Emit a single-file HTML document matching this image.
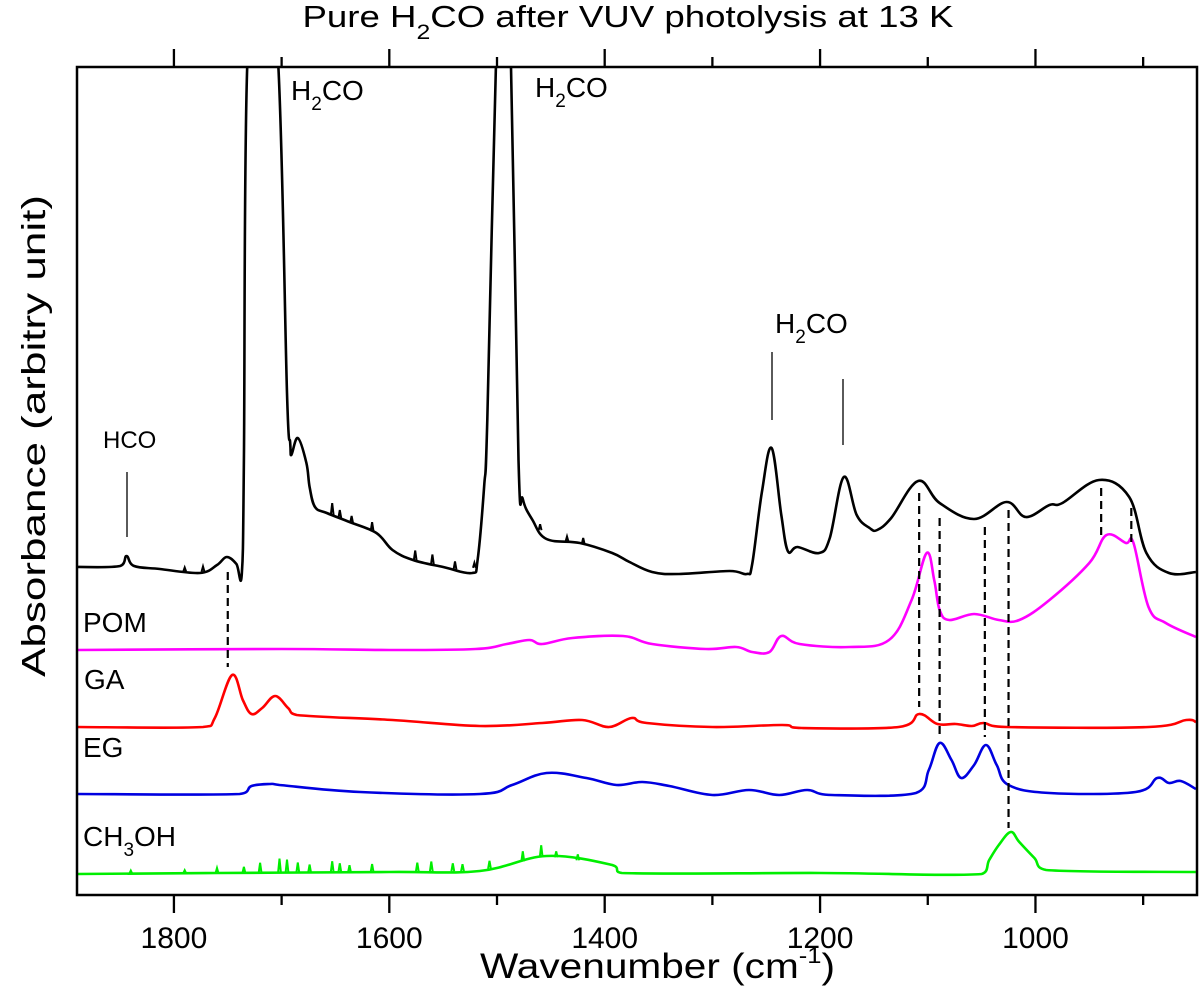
<!DOCTYPE html>
<html><head><meta charset="utf-8"><title>Pure H2CO after VUV photolysis</title>
<style>html,body{margin:0;padding:0;background:#fff;}svg{display:block;font-family:"Liberation Sans",Arial,sans-serif;}</style>
</head><body>
<svg id="chart" width="1200" height="1007" viewBox="0 0 1200 1007" xmlns="http://www.w3.org/2000/svg">
<defs><clipPath id="plotclip"><rect x="77" y="67" width="1120" height="828"/></clipPath></defs>
<rect width="1200" height="1007" fill="#fff"/>
<text x="628" y="27" text-anchor="middle" font-size="31" textLength="651" lengthAdjust="spacingAndGlyphs">Pure H<tspan font-size="21" dy="12">2</tspan><tspan dy="-12">CO after VUV photolysis at 13 K</tspan></text>
<g id="series" clip-path="url(#plotclip)"></g>
<g id="dashes"></g>
<rect x="77" y="67" width="1120" height="828" fill="none" stroke="#000" stroke-width="2.5"/>
<g id="ticks"></g>
<text x="480" y="978" font-size="35" textLength="355" lengthAdjust="spacingAndGlyphs">Wavenumber (cm<tspan font-size="22" dy="-15">-1</tspan><tspan dy="15">)</tspan></text>
<text transform="translate(45,677) rotate(-90)" x="0" y="0" font-size="33" textLength="482" lengthAdjust="spacingAndGlyphs">Absorbance (arbitry unit)</text>
<g font-size="28">
<text x="103" y="448" font-size="24">HCO</text>
<line x1="127" y1="472" x2="127" y2="537" stroke="#000" stroke-width="1.3"/>
<text x="291" y="100">H<tspan font-size="19" dy="10">2</tspan><tspan dy="-10">CO</tspan></text>
<text x="535" y="97">H<tspan font-size="19" dy="10">2</tspan><tspan dy="-10">CO</tspan></text>
<text x="775" y="333">H<tspan font-size="19" dy="10">2</tspan><tspan dy="-10">CO</tspan></text>
<line x1="772" y1="352" x2="772" y2="420" stroke="#000" stroke-width="1.3"/>
<line x1="843" y1="379" x2="843" y2="445" stroke="#000" stroke-width="1.3"/>
</g>
<g font-size="28">
<text x="83" y="632">POM</text>
<text x="84" y="689">GA</text>
<text x="83" y="757">EG</text>
<text x="83" y="846">CH<tspan font-size="19" dy="10">3</tspan><tspan dy="-10">OH</tspan></text>
</g>
</svg>
<script>
const xDomain = [1890, 850];
const yDomain = [0, 8.28];
const majorTicks = [1800, 1600, 1400, 1200, 1000];
const minorTicks = [1700, 1500, 1300, 1100, 900];
const tickLabels = ["1800", "1600", "1400", "1200", "1000"];

const blackWn = [1890,1850,1844,1837,1813,1776,1760,1751,1742,1737,1735,1732,1718,1703,1695,1692,1691,1685,1677,1674,1669,1658,1637,1612,1597,1578,1550,1523,1518,1512,1509,1501,1494,1487,1480,1476,1467,1454,1423,1393,1377,1356,1331,1284,1268,1263,1254,1245,1236,1230,1221,1201,1191,1178,1166,1154,1147,1134,1109,1089,1057,1027,1009,987,975,941,913,897,876,851];
const blackAbs = [3.28,3.29,3.39,3.29,3.26,3.22,3.30,3.38,3.31,3.21,4.35,8.28,10,8.28,5.02,4.52,4.40,4.57,4.32,4.08,3.88,3.82,3.73,3.62,3.45,3.35,3.28,3.22,3.35,4.08,4.75,8.28,10,8.28,4.35,3.96,3.75,3.56,3.52,3.42,3.33,3.23,3.21,3.24,3.21,3.31,4.03,4.47,3.80,3.44,3.48,3.42,3.57,4.18,3.80,3.67,3.65,3.77,4.14,3.92,3.76,3.93,3.78,3.90,3.92,4.15,3.98,3.42,3.22,3.23];
const blackSpikeWn = [1790,1773,1653,1646,1635,1616,1576,1560,1539,1521,1460,1435,1420];
const blackSpikeH = [0.04,0.05,0.12,0.08,0.07,0.09,0.10,0.10,0.08,0.05,0.06,0.05,0.06];

const pomWn = [1890,1700,1600,1520,1491,1470,1458,1430,1383,1356,1306,1278,1263,1247,1236,1219,1173,1136,1115,1101,1094,1089,1080,1057,1034,1015,987,950,934,916,909,895,879,851];
const pomAbs = [2.45,2.46,2.45,2.46,2.51,2.55,2.51,2.57,2.59,2.51,2.46,2.48,2.43,2.43,2.59,2.51,2.48,2.55,2.95,3.42,3.15,2.85,2.75,2.81,2.75,2.75,2.95,3.32,3.60,3.52,3.52,2.88,2.72,2.58];

const gaWn = [1890,1773,1762,1746,1736,1728,1718,1706,1694,1686,1597,1516,1458,1421,1396,1375,1361,1300,1235,1217,1127,1108,1091,1074,1059,1048,1027,895,860,851];
const gaAbs = [1.68,1.68,1.77,2.20,1.95,1.81,1.87,1.99,1.87,1.80,1.75,1.69,1.72,1.75,1.68,1.77,1.72,1.68,1.70,1.67,1.68,1.81,1.71,1.71,1.69,1.72,1.68,1.68,1.75,1.73];

const egWn = [1890,1739,1728,1711,1702,1627,1516,1486,1454,1417,1389,1365,1340,1300,1266,1238,1212,1189,1111,1099,1089,1078,1069,1057,1046,1036,1025,987,907,887,876,865,851];
const egAbs = [1.01,1.01,1.09,1.11,1.10,1.03,1.01,1.10,1.22,1.17,1.10,1.13,1.09,1.00,1.05,1.00,1.05,1.00,1.02,1.25,1.52,1.35,1.17,1.30,1.50,1.30,1.10,1.02,1.03,1.17,1.12,1.14,1.06];

const ch3ohWn = [1890,1760,1600,1516,1454,1393,1384,1200,1050,1043,1034,1023,1015,1001,990,851];
const ch3ohAbs = [0.21,0.22,0.23,0.24,0.39,0.30,0.22,0.22,0.21,0.35,0.50,0.63,0.53,0.37,0.25,0.23];
const ch3ohSpikeWn = [1840,1790,1760,1735,1720,1702,1695,1685,1674,1653,1646,1637,1616,1574,1561,1541,1532,1507,1476,1459,1445,1425];
const ch3ohSpikeH = [0.03,0.03,0.05,0.06,0.10,0.14,0.13,0.10,0.08,0.11,0.09,0.07,0.08,0.09,0.10,0.08,0.07,0.08,0.10,0.12,0.06,0.06];

const dashWn = [1750,1108,1089,1047,1025,939,911];
const dashTop = [3.23,4.02,3.77,3.68,3.85,4.07,3.87];
const dashBottom = [2.28,1.88,1.58,1.58,0.67,3.55,3.53];

function xs(v){ return 77 + (xDomain[0]-v)/(xDomain[0]-xDomain[1])*1120; }
function ys(a){ return 895 - (a-yDomain[0])/(yDomain[1]-yDomain[0])*828; }
function interp(wn, ab, v){
  for(let i=0;i<wn.length-1;i++){ if(v<=wn[i] && v>=wn[i+1]){ const t=(wn[i]-v)/(wn[i]-wn[i+1]); return ab[i]+t*(ab[i+1]-ab[i]); } }
  return ab[ab.length-1];
}
const NS="http://www.w3.org/2000/svg";
const gS=document.getElementById('series');
function smoothPath(P){
  let d="M"+P[0][0].toFixed(1)+","+P[0][1].toFixed(1);
  for(let i=0;i<P.length-1;i++){
    const p0=P[Math.max(0,i-1)],p1=P[i],p2=P[i+1],p3=P[Math.min(P.length-1,i+2)];
    const t=0.18;
    let c1x=p1[0]+(p2[0]-p0[0])*t, c1y=p1[1]+(p2[1]-p0[1])*t;
    let c2x=p2[0]-(p3[0]-p1[0])*t, c2y=p2[1]-(p3[1]-p1[1])*t;
    const lo=Math.min(p1[0],p2[0]), hi=Math.max(p1[0],p2[0]);
    c1x=Math.min(hi,Math.max(lo,c1x)); c2x=Math.min(hi,Math.max(lo,c2x));
    d+="C"+c1x.toFixed(1)+","+c1y.toFixed(1)+" "+c2x.toFixed(1)+","+c2y.toFixed(1)+" "+p2[0].toFixed(1)+","+p2[1].toFixed(1);
  }
  return d;
}
function drawSeries(name, wn, ab, color, spWn, spH){
  let pts=[];
  for(let i=0;i<wn.length;i++) pts.push([wn[i], ab[i]]);
  let P=pts.map(p=>[xs(p[0]),ys(p[1])]);
  let d=smoothPath(P);
  const p=document.createElementNS(NS,'path');
  p.setAttribute('d',d);p.setAttribute('fill','none');p.setAttribute('stroke',color);
  p.setAttribute('stroke-width','2.6');p.setAttribute('stroke-linejoin','round');
  
  
  gS.appendChild(p);
  if(spWn){
    let sd="";
    for(let k=0;k<spWn.length;k++){
      const b=interp(wn,ab,spWn[k]);
      sd+="M"+xs(spWn[k]+1.3).toFixed(1)+","+ys(b).toFixed(1)+"L"+xs(spWn[k]).toFixed(1)+","+ys(b+spH[k]).toFixed(1)+"L"+xs(spWn[k]-1.3).toFixed(1)+","+ys(b).toFixed(1);
    }
    const s=document.createElementNS(NS,'path');
    s.setAttribute('d',sd);s.setAttribute('fill','none');s.setAttribute('stroke',color);
    s.setAttribute('stroke-width','2');
    
    
    gS.appendChild(s);
  }
}
drawSeries('h2co-photolysis-trace', blackWn, blackAbs, '#000', blackSpikeWn, blackSpikeH);
drawSeries('pom-trace', pomWn, pomAbs, '#ff00ff');
drawSeries('ga-trace', gaWn, gaAbs, '#ff0000');
drawSeries('eg-trace', egWn, egAbs, '#0000e0');
drawSeries('ch3oh-trace', ch3ohWn, ch3ohAbs, '#00ee00', ch3ohSpikeWn, ch3ohSpikeH);

const gD=document.getElementById('dashes');
for(let i=0;i<dashWn.length;i++){
  const l=document.createElementNS(NS,'line');
  l.setAttribute('x1',xs(dashWn[i]));l.setAttribute('x2',xs(dashWn[i]));
  l.setAttribute('y1',ys(dashTop[i]));l.setAttribute('y2',ys(dashBottom[i]));
  l.setAttribute('stroke','#000');l.setAttribute('stroke-width','2.2');l.setAttribute('stroke-dasharray','8,5');
  
  
  gD.appendChild(l);
}
const gT=document.getElementById('ticks');
function tick(v, len){
  const x=xs(v);
  [[895,895+len],[67,67-len]].forEach(function(seg){
    const l=document.createElementNS(NS,'line');
    l.setAttribute('x1',x);l.setAttribute('x2',x);l.setAttribute('y1',seg[0]);l.setAttribute('y2',seg[1]);
    l.setAttribute('stroke','#000');l.setAttribute('stroke-width','2.3');
    
    
    gT.appendChild(l);
  });
}
majorTicks.forEach(function(v,i){
  tick(v,18);
  const t=document.createElementNS(NS,'text');
  t.setAttribute('x',xs(v));t.setAttribute('y',948);t.setAttribute('text-anchor','middle');t.setAttribute('font-size','30');
  t.textContent=tickLabels[i];
  
  
  gT.appendChild(t);
});
minorTicks.forEach(function(v){ tick(v,10); });
</script>
</body></html>
